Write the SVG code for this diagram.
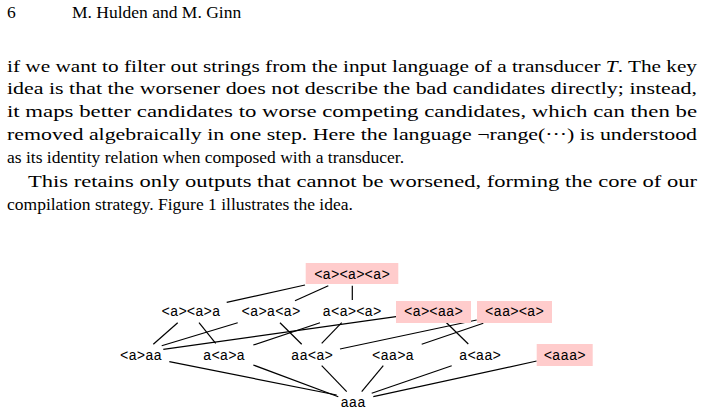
<svg xmlns="http://www.w3.org/2000/svg" width="703" height="412" viewBox="0 0 703 412">
<style>
.p{font-family:"Liberation Serif","DejaVu Serif",serif;font-size:17.5px;fill:#000}
.n{font-family:"Liberation Mono","DejaVu Sans Mono",monospace;font-size:14px;fill:#000;text-anchor:middle}
.h{fill:#ffcccc}
#edges line{stroke:#000;stroke-width:1.2}
</style>
<rect width="703" height="412" fill="#fff"/>
<text class="p" x="7" y="18">6</text>
<text class="p" x="72" y="18">M. Hulden and M. Ginn</text>
<text class="p" x="7" y="72" textLength="690" lengthAdjust="spacingAndGlyphs">if we want to filter out strings from the input language of a transducer <tspan font-style="italic">T</tspan>. The key</text>
<text class="p" x="7" y="94" textLength="690" lengthAdjust="spacingAndGlyphs">idea is that the worsener does not describe the bad candidates directly; instead,</text>
<text class="p" x="7" y="117" textLength="690" lengthAdjust="spacingAndGlyphs">it maps better candidates to worse competing candidates, which can then be</text>
<text class="p" x="7" y="140" textLength="690" lengthAdjust="spacingAndGlyphs">removed algebraically in one step. Here the language ¬range(···) is understood</text>
<text class="p" x="7" y="163">as its identity relation when composed with a transducer.</text>
<text class="p" x="28" y="187" textLength="669" lengthAdjust="spacingAndGlyphs">This retains only outputs that cannot be worsened, forming the core of our</text>
<text class="p" x="7" y="210">compilation strategy. Figure 1 illustrates the idea.</text>
<g id="edges">
<line x1="305" y1="285" x2="226.7" y2="302.3"/>
<line x1="328.3" y1="285.7" x2="295" y2="300.7"/>
<line x1="352.3" y1="285.7" x2="352.3" y2="300"/>
<line x1="177.7" y1="322.7" x2="153.3" y2="344.3"/>
<line x1="199" y1="322.7" x2="215.7" y2="343.3"/>
<line x1="237.7" y1="322.7" x2="161.7" y2="345.7"/>
<line x1="280" y1="322.7" x2="301.7" y2="344.3"/>
<line x1="320" y1="322.7" x2="253.3" y2="345"/>
<line x1="341.7" y1="322.7" x2="321.7" y2="343.3"/>
<line x1="396" y1="316.7" x2="163.3" y2="349.3"/>
<line x1="446" y1="322.3" x2="468.3" y2="344"/>
<line x1="476.7" y1="320" x2="340" y2="349"/>
<line x1="483.3" y1="323.3" x2="421.7" y2="344.3"/>
<line x1="169.3" y1="361.7" x2="336.7" y2="395"/>
<line x1="253.3" y1="365" x2="338.3" y2="396.7"/>
<line x1="321.7" y1="365.7" x2="346.7" y2="391.7"/>
<line x1="383.3" y1="365.7" x2="361.7" y2="391.7"/>
<line x1="451.7" y1="365.7" x2="371.7" y2="393.3"/>
<line x1="536.7" y1="361" x2="373.3" y2="396.7"/>
</g>
<g id="n-aaa3"><rect class="h" x="305.7" y="263" width="92.6" height="21"/><text class="n" x="352" y="279">&lt;a&gt;&lt;a&gt;&lt;a&gt;</text></g>
<g id="n-r2a"><text class="n" x="191" y="316">&lt;a&gt;&lt;a&gt;a</text></g>
<g id="n-r2b"><text class="n" x="271" y="316">&lt;a&gt;a&lt;a&gt;</text></g>
<g id="n-r2c"><text class="n" x="352" y="316">a&lt;a&gt;&lt;a&gt;</text></g>
<g id="n-r2d"><rect class="h" x="396" y="301" width="75" height="22"/><text class="n" x="433.5" y="316">&lt;a&gt;&lt;aa&gt;</text></g>
<g id="n-r2e"><rect class="h" x="477" y="301" width="75" height="22"/><text class="n" x="514.5" y="316">&lt;aa&gt;&lt;a&gt;</text></g>
<g id="n-r3a"><text class="n" x="141" y="360">&lt;a&gt;aa</text></g>
<g id="n-r3b"><text class="n" x="224" y="360">a&lt;a&gt;a</text></g>
<g id="n-r3c"><text class="n" x="312" y="360">aa&lt;a&gt;</text></g>
<g id="n-r3d"><text class="n" x="393" y="360">&lt;aa&gt;a</text></g>
<g id="n-r3e"><text class="n" x="480" y="360">a&lt;aa&gt;</text></g>
<g id="n-r3f"><rect class="h" x="536.7" y="344" width="56" height="22"/><text class="n" x="564.7" y="360">&lt;aaa&gt;</text></g>
<g id="n-aaa"><text class="n" x="353" y="407">aaa</text></g>
</svg>
